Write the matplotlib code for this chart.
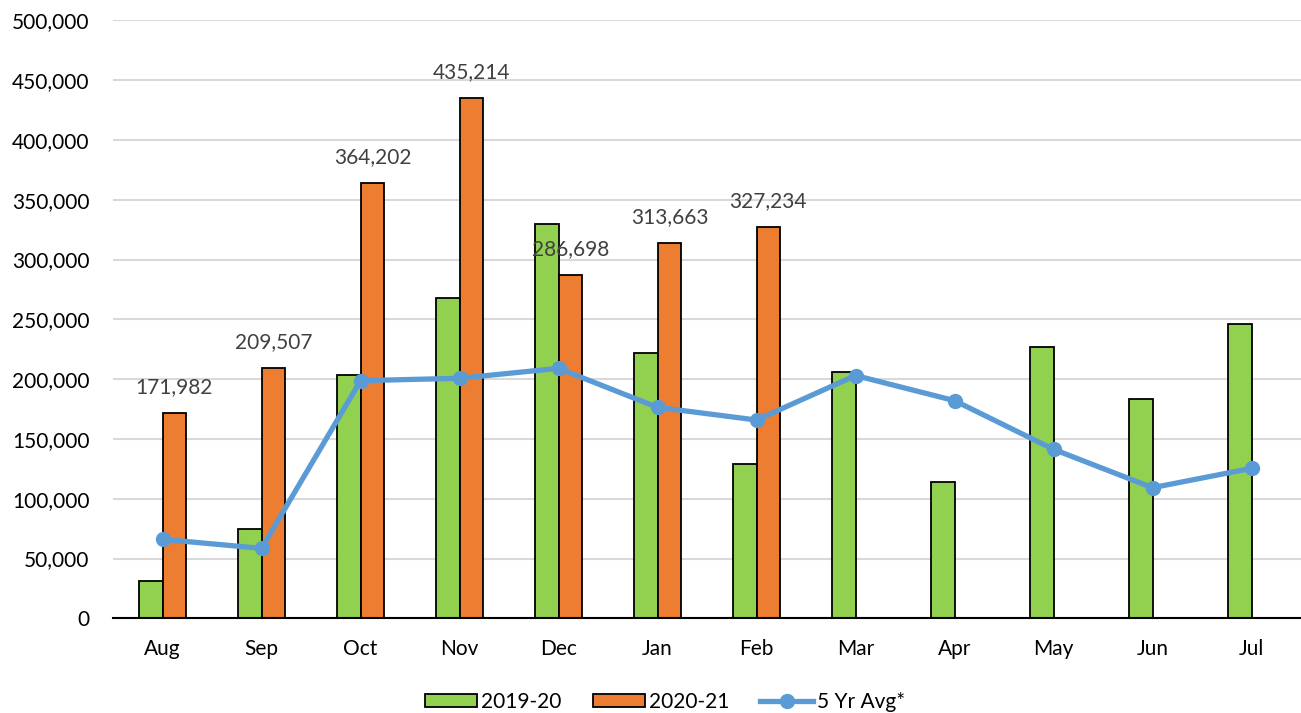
import matplotlib
matplotlib.use('Agg')
import matplotlib.pyplot as plt
import numpy as np
from matplotlib.ticker import FuncFormatter

plt.rcParams['font.family'] = ['Lato', 'DejaVu Sans']

# monthly values
months = ['Aug', 'Sep', 'Oct', 'Nov', 'Dec', 'Jan', 'Feb', 'Mar', 'Apr', 'May', 'Jun', 'Jul']
y2019_20 = [31400, 74700, 203400, 268000, 330000, 222000, 129000, 206200, 114200, 226800, 183300, 246300]
y2020_21 = [171982, 209507, 364202, 435214, 286698, 313663, 327234]
avg_5yr = [66000, 58500, 198700, 200700, 209000, 176400, 165800, 203000, 182000, 141300, 109200, 125400]

green = '#92D050'
orange = '#ED7D31'
blue = '#5B9BD5'

fig = plt.figure(figsize=(13.01, 7.13), dpi=100)
ax = fig.add_axes([0.0869, 0.1328, 0.9131, 0.8387])

x = np.arange(len(months))
w = 0.24
b1 = ax.bar(x - w / 2, y2019_20, w, color=green, edgecolor='black', linewidth=1.3, label='2019-20', zorder=2)
x2 = x[:len(y2020_21)]
b2 = ax.bar(x2 + w / 2, y2020_21, w, color=orange, edgecolor='black', linewidth=1.3, label='2020-21', zorder=2)
ln, = ax.plot(x, avg_5yr, color=blue, linewidth=3.8, marker='o', markersize=10, label='5 Yr Avg*', zorder=3)

# data labels for 2020-21
for xi, v in zip(x2, y2020_21):
    ax.annotate(f'{v:,}', (xi + w / 2, v), xytext=(0, 18.7), textcoords='offset points',
                ha='center', va='center', fontsize=15, color='#404040', zorder=4)

ax.set_xlim(-0.5, 11.5)
ax.set_ylim(0, 500000)
ax.set_yticks(np.arange(0, 500001, 50000))
ax.yaxis.set_major_formatter(FuncFormatter(lambda v, p: f'{int(v):,}'))
ax.set_xticks(x)
ax.set_xticklabels(months)
ax.tick_params(axis='y', length=0, pad=17, labelsize=15, colors='black')
ax.tick_params(axis='x', length=0, pad=15, labelsize=15, colors='black')
ax.grid(axis='y', color='#D9D9D9', linewidth=1.5, zorder=0)
ax.set_axisbelow(True)
for s in ['top', 'right', 'left']:
    ax.spines[s].set_visible(False)
ax.spines['bottom'].set_color('black')
ax.spines['bottom'].set_linewidth(1.5)
ax.spines['bottom'].set_zorder(5)

fig.legend([b1, b2, ln], ['2019-20', '2020-21', '5 Yr Avg*'], loc='center',
           bbox_to_anchor=(0.511, 0.0154), ncol=3, frameon=False, fontsize=15,
           handlelength=2.5, handleheight=0.6, columnspacing=1.5, handletextpad=0.2)

fig.savefig('out.png', dpi=100)
